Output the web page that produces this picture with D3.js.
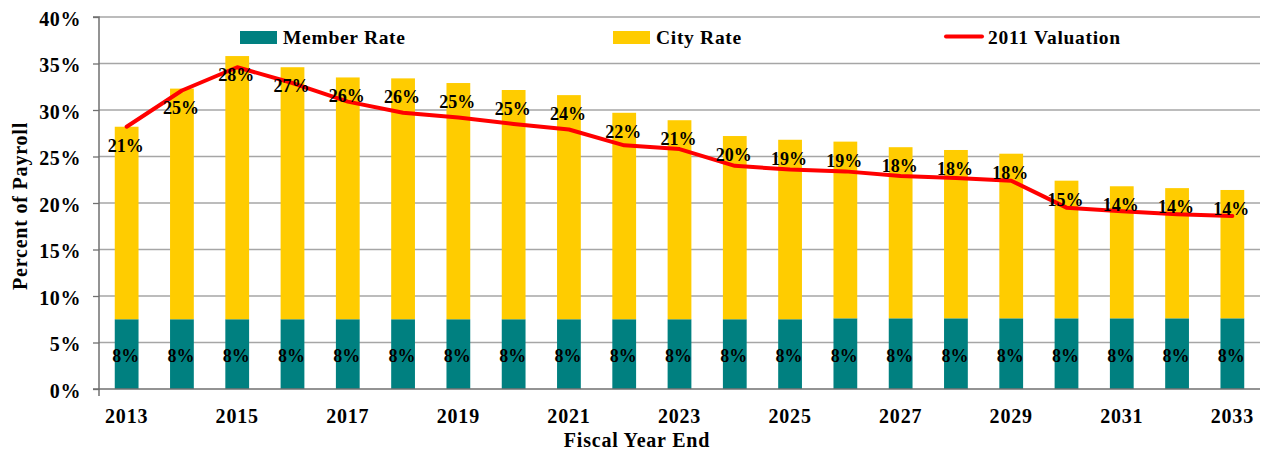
<!DOCTYPE html>
<html>
<head>
<meta charset="utf-8">
<script src="https://cdn.jsdelivr.net/npm/d3@7"></script>
<style>
  html, body { margin: 0; padding: 0; background: #fff; }
  svg text { font-family: "Liberation Serif", "Times New Roman", serif; font-weight: bold; fill: #000; }
</style>
</head>
<body>
<svg id="chart" width="1263" height="452"></svg>
<script>
const years = [2013,2014,2015,2016,2017,2018,2019,2020,2021,2022,2023,2024,2025,2026,2027,2028,2029,2030,2031,2032,2033];
const memberRate = [7.5,7.5,7.5,7.5,7.5,7.5,7.5,7.5,7.5,7.5,7.5,7.5,7.5,7.6,7.6,7.6,7.6,7.6,7.6,7.6,7.6];
const cityRate = [20.7,24.8,28.3,27.1,26.0,25.9,25.4,24.65,24.1,22.2,21.4,19.7,19.3,19.0,18.4,18.1,17.7,14.8,14.2,14.0,13.8];
const valuation2011 = [28.2,32.1,34.6,32.9,30.9,29.7,29.2,28.5,27.9,26.2,25.8,24.0,23.6,23.4,22.9,22.7,22.4,19.5,19.1,18.8,18.6];
const yTicks = [0,5,10,15,20,25,30,35,40];
const xTickLabels = [2013,2015,2017,2019,2021,2023,2025,2027,2029,2031,2033];
const seriesNames = ["Member Rate","City Rate","2011 Valuation"];
const colors = {member:"#008080", city:"#FFCC00", line:"#FF0000"};

const svg = d3.select("#chart");
const pLeft = 99, pRight = 1260, pTop = 17, pBottom = 389;

const x = d3.scaleBand().domain(years).range([pLeft, pRight]).paddingInner(0.57).paddingOuter(0.285);
const y = d3.scaleLinear().domain([0, 40]).range([pBottom, pTop]);

// gridlines
svg.append("g").selectAll("line").data(yTicks.filter(d => d > 0)).join("line")
  .attr("x1", pLeft).attr("x2", pRight)
  .attr("y1", d => y(d)).attr("y2", d => y(d))
  .attr("stroke", "#a6a6a6").attr("stroke-width", 1.3);

// stacked data
const data = years.map((yr, i) => ({year: yr, member: memberRate[i], city: cityRate[i], val: valuation2011[i]}));
const stack = d3.stack().keys(["member","city"])(data);

const bars = svg.append("g");
stack.forEach(layer => {
  bars.append("g").attr("fill", colors[layer.key])
    .selectAll("rect").data(layer).join("rect")
    .attr("x", d => x(d.data.year))
    .attr("width", x.bandwidth())
    .attr("y", d => y(d[1]))
    .attr("height", d => y(d[0]) - y(d[1]));
});

// y axis
const yAxis = d3.axisLeft(y).tickValues(yTicks).tickFormat(d => d + "%").tickSize(6).tickPadding(12);
const gy = svg.append("g").attr("transform", `translate(${pLeft},0)`).call(yAxis);
gy.select(".domain").attr("stroke", "#707070").attr("stroke-width", 1.5).attr("d", `M-6,${pBottom}H0V${pTop}H-6`);
gy.selectAll(".tick line").attr("stroke", "#707070").attr("stroke-width", 1.3);
gy.selectAll(".tick text").style("font-size", "20px").style("letter-spacing", "0.6px").attr("dy", "0.4em");

// x axis
const xAxis = d3.axisBottom(x).tickValues(xTickLabels).tickSize(0).tickPadding(20);
const gx = svg.append("g").attr("transform", `translate(0,${pBottom})`).call(xAxis);
gx.select(".domain").attr("stroke", "#707070").attr("stroke-width", 1.5).attr("d", `M${pLeft},7V0H${pRight}`);
gx.selectAll(".tick text").style("font-size", "20px").style("letter-spacing", "0.8px");

// line
const line = d3.line().x(d => x(d.year) + x.bandwidth()/2).y(d => y(d.val));
svg.append("path").datum(data).attr("d", line)
  .attr("fill", "none").attr("stroke", colors.line).attr("stroke-width", 4).attr("stroke-linejoin", "round").attr("stroke-linecap", "round");

// data labels
const lbl = svg.append("g").style("font-size", "18px").attr("text-anchor", "middle");
lbl.selectAll("text.m").data(data).join("text").attr("class","m")
  .attr("x", d => x(d.year) + x.bandwidth()/2 - 1)
  .attr("y", d => (y(0) + y(d.member)) / 2 + 8)
  .text(d => d3.format(".0f")(d.member) + "%");
lbl.selectAll("text.c").data(data).join("text").attr("class","c")
  .attr("x", d => x(d.year) + x.bandwidth()/2 - 1)
  .attr("y", d => y(d.member + d.city) + 25)
  .text(d => Math.round(d.city) + "%");

// legend
const lg = svg.append("g").style("font-size", "19.5px").style("letter-spacing", "0.7px");
lg.append("rect").attr("x", 240).attr("y", 31).attr("width", 37).attr("height", 13).attr("fill", colors.member);
lg.append("text").attr("x", 283).attr("y", 44).text(seriesNames[0]);
lg.append("rect").attr("x", 613).attr("y", 31).attr("width", 37).attr("height", 13).attr("fill", colors.city);
lg.append("text").attr("x", 656).attr("y", 44).text(seriesNames[1]);
lg.append("line").attr("x1", 946).attr("x2", 982).attr("y1", 36.5).attr("y2", 36.5)
  .attr("stroke", colors.line).attr("stroke-width", 4).attr("stroke-linecap", "round");
lg.append("text").attr("x", 988).attr("y", 44).text(seriesNames[2]);

// axis titles
svg.append("text").attr("transform", "translate(27,206) rotate(-90)").attr("text-anchor", "middle")
  .style("font-size", "20px").style("letter-spacing", "0.8px").text("Percent of Payroll");
svg.append("text").attr("x", 637).attr("y", 447).attr("text-anchor", "middle")
  .style("font-size", "20px").style("letter-spacing", "0.8px").text("Fiscal Year End");
</script>
</body>
</html>
